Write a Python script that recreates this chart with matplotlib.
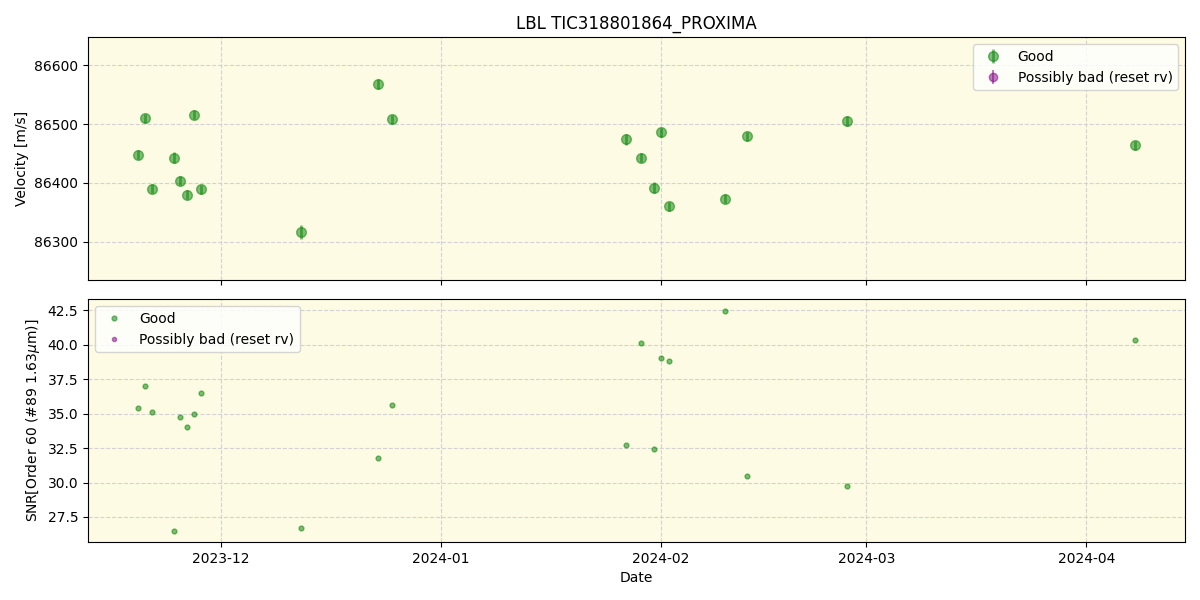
import matplotlib
matplotlib.use("Agg")
import matplotlib.pyplot as plt
import matplotlib.dates as mdates
import numpy as np
import pandas as pd

dates = ["2023-11-19 07:00", "2023-11-20 07:00", "2023-11-21 07:00", "2023-11-24 09:00",
         "2023-11-25 05:00", "2023-11-26 05:00", "2023-11-27 07:00", "2023-11-28 07:00",
         "2023-12-12 07:00", "2023-12-23 03:00", "2023-12-25 05:00", "2024-01-27 02:00",
         "2024-01-29 05:00", "2024-01-31 03:00", "2024-02-01 03:00", "2024-02-02 03:00",
         "2024-02-10 01:00", "2024-02-13 05:00", "2024-02-27 05:00", "2024-04-07 22:00"]
velocity = [86448, 86510, 86390, 86443, 86404, 86380, 86516, 86389, 86317, 86568,
            86508, 86474, 86443, 86392, 86486, 86360, 86373, 86479, 86505, 86464]
velocity_err = [8, 8, 8, 10, 8, 8, 8, 8, 12, 8, 8, 9, 8, 9, 8, 8, 8, 8, 9, 8]
snr = [35.4, 37.0, 35.1, 26.5, 34.75, 34.0, 35.0, 36.5, 26.7, 31.8,
       35.6, 32.7, 40.1, 32.4, 39.0, 38.85, 42.45, 30.5, 29.75, 40.35]

t = pd.to_datetime(dates)
bg = '#fdfbe3'

fig, (ax1, ax2) = plt.subplots(2, 1, figsize=(12, 6), dpi=100, sharex=True)
fig.subplots_adjust(left=0.0733, right=0.9875, top=0.938, bottom=0.097, hspace=0.08)

ax1.set_facecolor(bg)
ax1.errorbar(t, velocity, yerr=velocity_err, fmt='o', color='green', alpha=0.5,
             label='Good', ms=7, elinewidth=2)
ax1.errorbar([], [], yerr=[], fmt='o', color='purple', alpha=0.5,
             label='Possibly bad (reset rv)', ms=6)
ax1.set_ylabel('Velocity [m/s]')
ax1.set_title('LBL TIC318801864_PROXIMA')
ax1.set_ylim(86235, 86648)
ax1.grid(True, linestyle='--', color='lightgray')
ax1.legend(loc='upper right')

ax2.set_facecolor(bg)
ax2.plot(t, snr, 'o', color='green', alpha=0.5, ms=3.5, label='Good')
ax2.plot([], [], 'o', color='purple', alpha=0.5, ms=3, label='Possibly bad (reset rv)')
ax2.set_ylabel('SNR[Order 60 (#89 1.63$\\mu$m)]')
ax2.set_xlabel('Date')
ax2.set_ylim(25.7, 43.3)
ax2.grid(True, linestyle='--', color='lightgray')
ax2.legend(loc='upper left')

ax2.set_xlim(pd.Timestamp('2023-11-12 07:00'), pd.Timestamp('2024-04-14 22:00'))
ax2.xaxis.set_major_formatter(mdates.DateFormatter('%Y-%m'))
ax2.set_xticks([pd.Timestamp(d) for d in ['2023-12-01', '2024-01-01', '2024-02-01', '2024-03-01', '2024-04-01']])

fig.savefig('out.png')
